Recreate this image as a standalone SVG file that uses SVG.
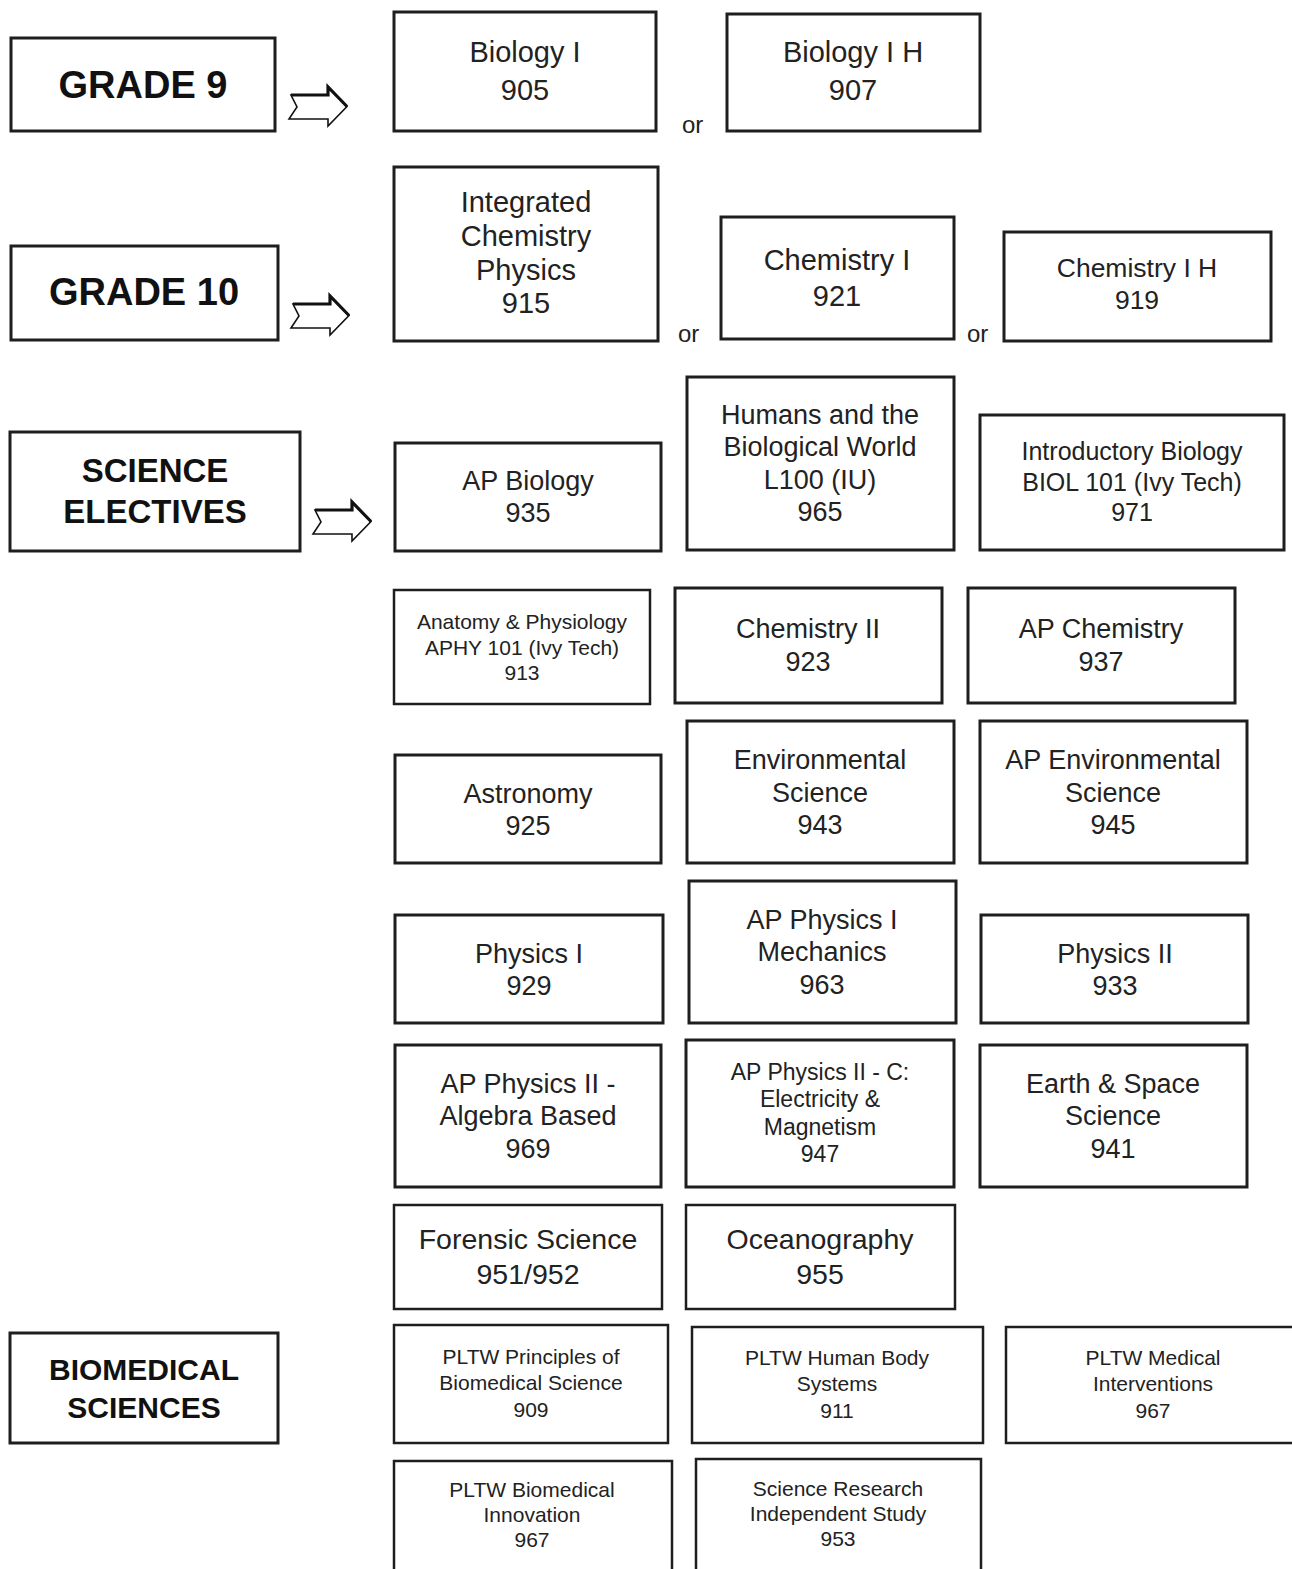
<svg xmlns="http://www.w3.org/2000/svg" xmlns:xlink="http://www.w3.org/1999/xlink" width="1292" height="1569" viewBox="0 0 1292 1569">
<style>
.box{fill:#fff;stroke:#1e1e1e;stroke-width:3}
.sbox{fill:#fff;stroke:#1e1e1e;stroke-width:2.5}
.t{font-family:"Liberation Sans",Arial,sans-serif;fill:#222;text-anchor:middle}
.h{font-family:"Liberation Sans",Arial,sans-serif;fill:#111;text-anchor:middle;font-weight:bold}
.or{font-family:"Liberation Sans",Arial,sans-serif;fill:#222;font-size:24px}
</style>
<defs>
<g id="arr">
<path d="M2,8 L39,8 L39,0 L58,19.5 L39,39 L39,32 L0,32 L8,20 Z" fill="#fff" stroke="#111" stroke-width="1.6" stroke-linejoin="miter"/>
<path d="M2,8 L39,8 L39,0 L58,19.5" fill="none" stroke="#111" stroke-width="3.2"/>
</g>
</defs>
<rect width="1292" height="1569" fill="#fff"/>

<g id="connectors">
<use xlink:href="#arr" x="289" y="87"/>
<use xlink:href="#arr" x="291" y="296"/>
<use xlink:href="#arr" x="313" y="502"/>
</g>

<g id="grade9"><rect class="box" x="11" y="38" width="264" height="93"/><text class="h" font-size="38" x="143" y="98">GRADE 9</text></g>
<g id="grade10"><rect class="box" x="11" y="246" width="267" height="94"/><text class="h" font-size="38" x="144" y="305">GRADE 10</text></g>
<g id="electives"><rect class="box" x="10" y="432" width="290" height="119"/><text class="h" font-size="33" x="155" y="482">SCIENCE</text><text class="h" font-size="33" x="155" y="523">ELECTIVES</text></g>
<g id="biomed"><rect class="box" x="10" y="1333" width="268" height="110"/><text class="h" font-size="30" x="144" y="1380">BIOMEDICAL</text><text class="h" font-size="30" x="144" y="1418">SCIENCES</text></g>

<g id="bio905"><rect class="box" x="394" y="12" width="262" height="119"/><text class="t" font-size="29" x="525" y="62">Biology I</text><text class="t" font-size="29" x="525" y="100">905</text></g>
<text class="or" x="682" y="133">or</text>
<g id="bio907"><rect class="box" x="727" y="14" width="253" height="117"/><text class="t" font-size="29" x="853" y="62">Biology I H</text><text class="t" font-size="29" x="853" y="100">907</text></g>

<g id="icp915"><rect class="box" x="394" y="167" width="264" height="174"/><text class="t" font-size="29" x="526" y="212">Integrated</text><text class="t" font-size="29" x="526" y="246">Chemistry</text><text class="t" font-size="29" x="526" y="280">Physics</text><text class="t" font-size="29" x="526" y="313">915</text></g>
<text class="or" x="678" y="342">or</text>
<g id="chem921"><rect class="box" x="721" y="217" width="233" height="122"/><text class="t" font-size="29" x="837" y="270">Chemistry I</text><text class="t" font-size="29" x="837" y="306">921</text></g>
<text class="or" x="967" y="342">or</text>
<g id="chem919"><rect class="box" x="1004" y="232" width="267" height="109"/><text class="t" font-size="26.5" x="1137" y="277">Chemistry I H</text><text class="t" font-size="26.5" x="1137" y="309">919</text></g>

<g id="apbio935"><rect class="box" x="395" y="443" width="266" height="108"/><text class="t" font-size="27" x="528" y="490">AP Biology</text><text class="t" font-size="27" x="528" y="522">935</text></g>
<g id="hum965"><rect class="box" x="687" y="377" width="267" height="173"/><text class="t" font-size="27" x="820" y="424">Humans and the</text><text class="t" font-size="27" x="820" y="456">Biological World</text><text class="t" font-size="27" x="820" y="489">L100 (IU)</text><text class="t" font-size="27" x="820" y="521">965</text></g>
<g id="intro971"><rect class="box" x="980" y="415" width="304" height="135"/><text class="t" font-size="25" x="1132" y="460">Introductory Biology</text><text class="t" font-size="25" x="1132" y="491">BIOL 101 (Ivy Tech)</text><text class="t" font-size="25" x="1132" y="521">971</text></g>

<g id="anat913"><rect class="sbox" x="394" y="590" width="256" height="114"/><text class="t" font-size="21" x="522" y="629">Anatomy &amp; Physiology</text><text class="t" font-size="21" x="522" y="655">APHY 101 (Ivy Tech)</text><text class="t" font-size="21" x="522" y="680">913</text></g>
<g id="chem923"><rect class="box" x="675" y="588" width="267" height="115"/><text class="t" font-size="27" x="808" y="638">Chemistry II</text><text class="t" font-size="27" x="808" y="671">923</text></g>
<g id="apchem937"><rect class="box" x="968" y="588" width="267" height="115"/><text class="t" font-size="27" x="1101" y="638">AP Chemistry</text><text class="t" font-size="27" x="1101" y="671">937</text></g>

<g id="astro925"><rect class="box" x="395" y="755" width="266" height="108"/><text class="t" font-size="27" x="528" y="803">Astronomy</text><text class="t" font-size="27" x="528" y="835">925</text></g>
<g id="env943"><rect class="box" x="687" y="721" width="267" height="142"/><text class="t" font-size="27" x="820" y="769">Environmental</text><text class="t" font-size="27" x="820" y="802">Science</text><text class="t" font-size="27" x="820" y="834">943</text></g>
<g id="apenv945"><rect class="box" x="980" y="721" width="267" height="142"/><text class="t" font-size="27" x="1113" y="769">AP Environmental</text><text class="t" font-size="27" x="1113" y="802">Science</text><text class="t" font-size="27" x="1113" y="834">945</text></g>

<g id="phys929"><rect class="box" x="395" y="915" width="268" height="108"/><text class="t" font-size="27" x="529" y="963">Physics I</text><text class="t" font-size="27" x="529" y="995">929</text></g>
<g id="apphys963"><rect class="box" x="689" y="881" width="267" height="142"/><text class="t" font-size="27" x="822" y="929">AP Physics I</text><text class="t" font-size="27" x="822" y="961">Mechanics</text><text class="t" font-size="27" x="822" y="994">963</text></g>
<g id="phys933"><rect class="box" x="981" y="915" width="267" height="108"/><text class="t" font-size="27" x="1115" y="963">Physics II</text><text class="t" font-size="27" x="1115" y="995">933</text></g>

<g id="apphys969"><rect class="box" x="395" y="1045" width="266" height="142"/><text class="t" font-size="27" x="528" y="1093">AP Physics II -</text><text class="t" font-size="27" x="528" y="1125">Algebra Based</text><text class="t" font-size="27" x="528" y="1158">969</text></g>
<g id="apphys947"><rect class="box" x="686" y="1040" width="268" height="147"/><text class="t" font-size="23" x="820" y="1080">AP Physics II - C:</text><text class="t" font-size="23" x="820" y="1107">Electricity &amp;</text><text class="t" font-size="23" x="820" y="1135">Magnetism</text><text class="t" font-size="23" x="820" y="1162">947</text></g>
<g id="earth941"><rect class="box" x="980" y="1045" width="267" height="142"/><text class="t" font-size="27" x="1113" y="1093">Earth &amp; Space</text><text class="t" font-size="27" x="1113" y="1125">Science</text><text class="t" font-size="27" x="1113" y="1158">941</text></g>

<g id="foren951"><rect class="sbox" x="394" y="1205" width="268" height="104"/><text class="t" font-size="28.5" x="528" y="1249">Forensic Science</text><text class="t" font-size="28.5" x="528" y="1284">951/952</text></g>
<g id="ocean955"><rect class="sbox" x="686" y="1205" width="269" height="104"/><text class="t" font-size="28.5" x="820" y="1249">Oceanography</text><text class="t" font-size="28.5" x="820" y="1284">955</text></g>

<g id="pltw909"><rect class="sbox" x="394" y="1325" width="274" height="118"/><text class="t" font-size="21" x="531" y="1364">PLTW Principles of</text><text class="t" font-size="21" x="531" y="1390">Biomedical Science</text><text class="t" font-size="21" x="531" y="1417">909</text></g>
<g id="pltw911"><rect class="sbox" x="692" y="1327" width="291" height="116"/><text class="t" font-size="21" x="837" y="1365">PLTW Human Body</text><text class="t" font-size="21" x="837" y="1391">Systems</text><text class="t" font-size="21" x="837" y="1418">911</text></g>
<g id="pltw967mi"><rect class="sbox" x="1006" y="1327" width="290" height="116"/><text class="t" font-size="21" x="1153" y="1365">PLTW Medical</text><text class="t" font-size="21" x="1153" y="1391">Interventions</text><text class="t" font-size="21" x="1153" y="1418">967</text></g>
<g id="pltw967bi"><rect class="sbox" x="394" y="1461" width="278" height="120"/><text class="t" font-size="21" x="532" y="1497">PLTW Biomedical</text><text class="t" font-size="21" x="532" y="1522">Innovation</text><text class="t" font-size="21" x="532" y="1547">967</text></g>
<g id="sci953"><rect class="sbox" x="696" y="1459" width="285" height="122"/><text class="t" font-size="21" x="838" y="1496">Science Research</text><text class="t" font-size="21" x="838" y="1521">Independent Study</text><text class="t" font-size="21" x="838" y="1546">953</text></g>
</svg>
